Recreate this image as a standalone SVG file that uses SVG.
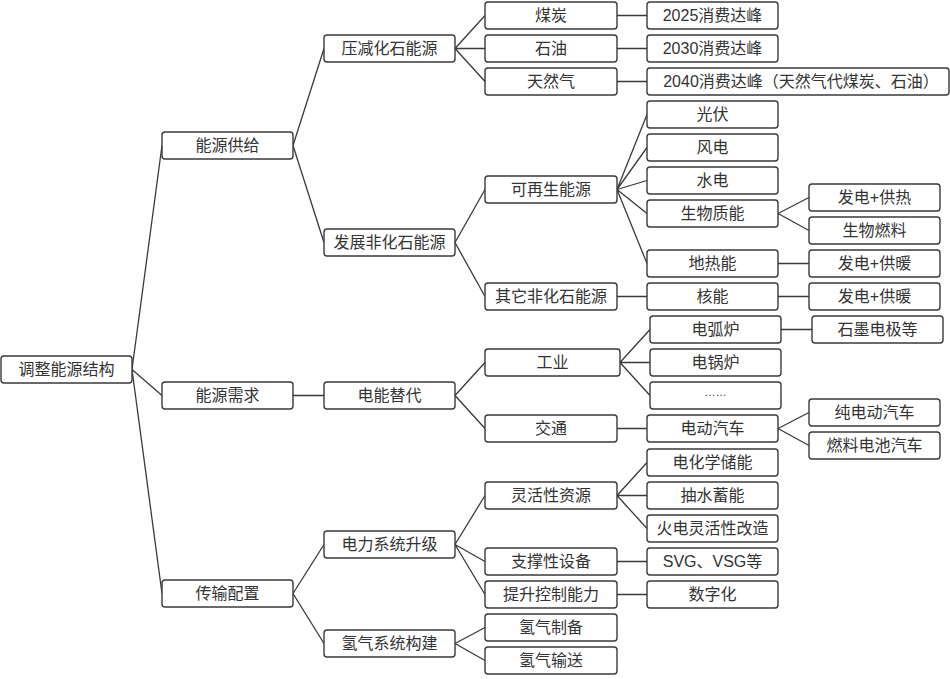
<svg xmlns="http://www.w3.org/2000/svg" width="950" height="679" viewBox="0 0 950 679">
<style>
.b{fill:#fff;stroke:#3a3a3a;stroke-width:1.4}
.t{font-family:"Liberation Sans","Noto Sans CJK SC",sans-serif;font-size:16px;fill:#333;text-anchor:middle;dominant-baseline:central}
.c{stroke:#3a3a3a;stroke-width:1.3;fill:none}
</style>
<rect width="950" height="679" fill="#fff"/>
<g id="connectors" class="c">
<path d="M132 369.5L162 145.5M132 369.5L162 395.5M132 369.5L162 593.5"/>
<path d="M293 145.5L324 48.5M293 145.5L324 242.5M293 395.5L324 395.5M293 593.5L324 544.5M293 593.5L324 643.5"/>
<path d="M455 48.5L485 15.5M455 48.5L485 48.5M455 48.5L485 81.5M455 242.5L485 189.5M455 242.5L485 296.5M455 395.5L485 362.5M455 395.5L485 428.5M455 544.5L485 495.5M455 544.5L485 561.5M455 544.5L485 594.5M455 643.5L485 627.5M455 643.5L485 660.5"/>
<path d="M617 15.5L647 15.5M617 48.5L647 48.5M617 81.5L647 81.5M617 189.5L647 114.5M617 189.5L647 147.5M617 189.5L647 180.5M617 189.5L647 213.5M617 189.5L647 263.5M617 296.5L647 296.5M620 362.5L650 329.5M620 362.5L650 362.5M620 362.5L650 395.5M617 428.5L647 428.5M617 495.5L647 462.5M617 495.5L647 495.5M617 495.5L647 528.5M617 561.5L647 561.5M617 594.5L647 594.5"/>
<path d="M778 213.5L809 197.5M778 213.5L809 230.5M778 263.5L809 263.5M778 296.5L809 296.5M781 329.5L812 329.5M778 428.5L809 412.5M778 428.5L809 445.5"/>
</g>
<g id="n0"><rect class="b" x="1" y="356" width="131" height="27" rx="3"/><text class="t" x="66.5" y="369.5">调整能源结构</text></g>
<g id="n1"><rect class="b" x="162" y="132" width="131" height="27" rx="3"/><text class="t" x="227.5" y="145.5">能源供给</text></g>
<g id="n2"><rect class="b" x="162" y="382" width="131" height="27" rx="3"/><text class="t" x="227.5" y="395.5">能源需求</text></g>
<g id="n3"><rect class="b" x="162" y="580" width="131" height="27" rx="3"/><text class="t" x="227.5" y="593.5">传输配置</text></g>
<g id="n4"><rect class="b" x="324" y="35" width="131" height="27" rx="3"/><text class="t" x="389.5" y="48.5">压减化石能源</text></g>
<g id="n5"><rect class="b" x="324" y="229" width="131" height="27" rx="3"/><text class="t" x="389.5" y="242.5">发展非化石能源</text></g>
<g id="n6"><rect class="b" x="324" y="382" width="131" height="27" rx="3"/><text class="t" x="389.5" y="395.5">电能替代</text></g>
<g id="n7"><rect class="b" x="324" y="531" width="131" height="27" rx="3"/><text class="t" x="389.5" y="544.5">电力系统升级</text></g>
<g id="n8"><rect class="b" x="324" y="630" width="131" height="27" rx="3"/><text class="t" x="389.5" y="643.5">氢气系统构建</text></g>
<g id="n9"><rect class="b" x="485" y="2" width="132" height="27" rx="3"/><text class="t" x="551" y="15.5">煤炭</text></g>
<g id="n10"><rect class="b" x="485" y="35" width="132" height="27" rx="3"/><text class="t" x="551" y="48.5">石油</text></g>
<g id="n11"><rect class="b" x="485" y="68" width="132" height="27" rx="3"/><text class="t" x="551" y="81.5">天然气</text></g>
<g id="n12"><rect class="b" x="485" y="176" width="132" height="27" rx="3"/><text class="t" x="551" y="189.5">可再生能源</text></g>
<g id="n13"><rect class="b" x="485" y="283" width="132" height="27" rx="3"/><text class="t" x="551" y="296.5">其它非化石能源</text></g>
<g id="n14"><rect class="b" x="485" y="349" width="135" height="27" rx="3"/><text class="t" x="552.5" y="362.5">工业</text></g>
<g id="n15"><rect class="b" x="485" y="415" width="132" height="27" rx="3"/><text class="t" x="551" y="428.5">交通</text></g>
<g id="n16"><rect class="b" x="485" y="482" width="132" height="27" rx="3"/><text class="t" x="551" y="495.5">灵活性资源</text></g>
<g id="n17"><rect class="b" x="485" y="548" width="132" height="27" rx="3"/><text class="t" x="551" y="561.5">支撑性设备</text></g>
<g id="n18"><rect class="b" x="485" y="581" width="132" height="27" rx="3"/><text class="t" x="551" y="594.5">提升控制能力</text></g>
<g id="n19"><rect class="b" x="485" y="614" width="132" height="27" rx="3"/><text class="t" x="551" y="627.5">氢气制备</text></g>
<g id="n20"><rect class="b" x="485" y="647" width="132" height="27" rx="3"/><text class="t" x="551" y="660.5">氢气输送</text></g>
<g id="n21"><rect class="b" x="647" y="2" width="131" height="27" rx="3"/><text class="t" x="712.5" y="15.5">2025消费达峰</text></g>
<g id="n22"><rect class="b" x="647" y="35" width="131" height="27" rx="3"/><text class="t" x="712.5" y="48.5">2030消费达峰</text></g>
<g id="n23"><rect class="b" x="647" y="68" width="302" height="27" rx="3"/><text class="t" x="801" y="81.5">2040消费达峰（天然气代煤炭、石油）</text></g>
<g id="n24"><rect class="b" x="647" y="101" width="131" height="27" rx="3"/><text class="t" x="712.5" y="114.5">光伏</text></g>
<g id="n25"><rect class="b" x="647" y="134" width="131" height="27" rx="3"/><text class="t" x="712.5" y="147.5">风电</text></g>
<g id="n26"><rect class="b" x="647" y="167" width="131" height="27" rx="3"/><text class="t" x="712.5" y="180.5">水电</text></g>
<g id="n27"><rect class="b" x="647" y="200" width="131" height="27" rx="3"/><text class="t" x="712.5" y="213.5">生物质能</text></g>
<g id="n28"><rect class="b" x="647" y="250" width="131" height="27" rx="3"/><text class="t" x="712.5" y="263.5">地热能</text></g>
<g id="n29"><rect class="b" x="647" y="283" width="131" height="27" rx="3"/><text class="t" x="712.5" y="296.5">核能</text></g>
<g id="n30"><rect class="b" x="650" y="316" width="131" height="27" rx="3"/><text class="t" x="715.5" y="329.5">电弧炉</text></g>
<g id="n31"><rect class="b" x="650" y="349" width="131" height="27" rx="3"/><text class="t" x="715.5" y="362.5">电锅炉</text></g>
<g id="n32"><rect class="b" x="650" y="382" width="131" height="27" rx="3"/><text class="t" x="715.5" y="392" style="font-size:11px">……</text></g>
<g id="n33"><rect class="b" x="647" y="415" width="131" height="27" rx="3"/><text class="t" x="712.5" y="428.5">电动汽车</text></g>
<g id="n34"><rect class="b" x="647" y="449" width="131" height="27" rx="3"/><text class="t" x="712.5" y="462.5">电化学储能</text></g>
<g id="n35"><rect class="b" x="647" y="482" width="131" height="27" rx="3"/><text class="t" x="712.5" y="495.5">抽水蓄能</text></g>
<g id="n36"><rect class="b" x="647" y="515" width="131" height="27" rx="3"/><text class="t" x="712.5" y="528.5">火电灵活性改造</text></g>
<g id="n37"><rect class="b" x="647" y="548" width="131" height="27" rx="3"/><text class="t" x="712.5" y="561.5">SVG、VSG等</text></g>
<g id="n38"><rect class="b" x="647" y="581" width="131" height="27" rx="3"/><text class="t" x="712.5" y="594.5">数字化</text></g>
<g id="n39"><rect class="b" x="809" y="184" width="131" height="27" rx="3"/><text class="t" x="874.5" y="197.5">发电+供热</text></g>
<g id="n40"><rect class="b" x="809" y="217" width="131" height="27" rx="3"/><text class="t" x="874.5" y="230.5">生物燃料</text></g>
<g id="n41"><rect class="b" x="809" y="250" width="131" height="27" rx="3"/><text class="t" x="874.5" y="263.5">发电+供暖</text></g>
<g id="n42"><rect class="b" x="809" y="283" width="131" height="27" rx="3"/><text class="t" x="874.5" y="296.5">发电+供暖</text></g>
<g id="n43"><rect class="b" x="812" y="316" width="131" height="27" rx="3"/><text class="t" x="877.5" y="329.5">石墨电极等</text></g>
<g id="n44"><rect class="b" x="809" y="399" width="131" height="27" rx="3"/><text class="t" x="874.5" y="412.5">纯电动汽车</text></g>
<g id="n45"><rect class="b" x="809" y="432" width="131" height="27" rx="3"/><text class="t" x="874.5" y="445.5">燃料电池汽车</text></g>
</svg>
